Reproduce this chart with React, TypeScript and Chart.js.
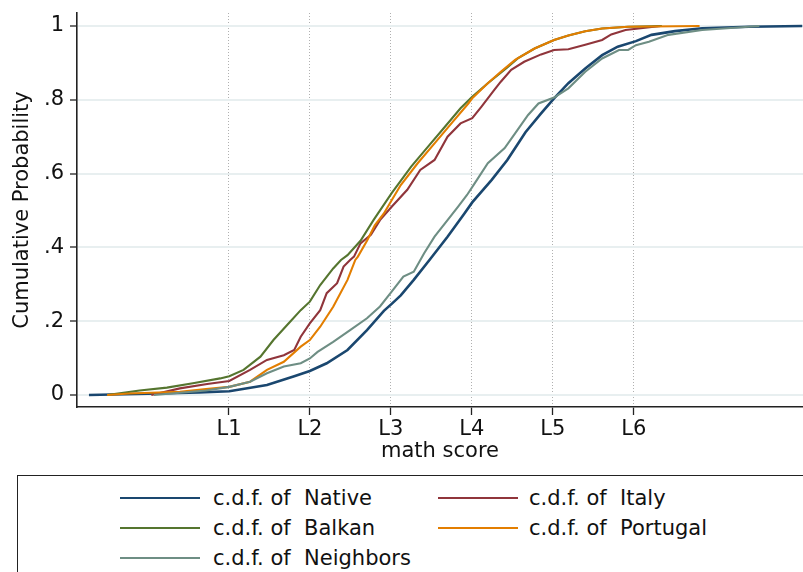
import React, { useEffect, useRef } from "react";
import { Chart, registerables } from "chart.js";

Chart.register(...registerables);

// ---- Data ----
const LEVEL_CUTS = [357.77, 420.07, 482.38, 544.68, 606.99, 669.3];
const LEVEL_LABELS = ["L1", "L2", "L3", "L4", "L5", "L6"];
const Y_TICKS = [0, 0.2, 0.4, 0.6, 0.8, 1];
const Y_LABELS = ["0", ".2", ".4", ".6", ".8", "1"];

const SERIES_NAMES = ["Native", "Italy", "Balkan", "Portugal", "Neighbors"];
const SERIES_COLORS = ["#1a476f", "#90353b", "#55752f", "#e37e00", "#6e8e84"];

const nativeScore = [250, 304, 335, 358, 387, 408, 420, 433, 449, 464, 477, 483, 490, 500, 513, 526, 539, 545, 560, 572, 586, 598, 608, 619, 632, 645, 657, 671, 683, 701, 722, 758, 799];
const nativeProb = [0, 0.004, 0.007, 0.01, 0.027, 0.051, 0.065, 0.086, 0.122, 0.176, 0.228, 0.247, 0.27, 0.312, 0.37, 0.429, 0.492, 0.522, 0.583, 0.637, 0.712, 0.763, 0.804, 0.845, 0.885, 0.921, 0.944, 0.959, 0.976, 0.986, 0.994, 0.998, 1];

const italyScore = [298, 320, 341, 358, 374, 387, 400, 408, 413, 420, 428, 433, 441, 446, 451, 454, 459, 467, 474, 483, 495, 505, 516, 526, 536, 545, 552, 562, 567, 575, 585, 598, 608, 619, 632, 645, 652, 663, 673, 690];
const italyProb = [0, 0.018, 0.03, 0.038, 0.068, 0.095, 0.108, 0.122, 0.158, 0.194, 0.23, 0.276, 0.303, 0.348, 0.366, 0.375, 0.411, 0.434, 0.474, 0.51, 0.556, 0.61, 0.637, 0.7, 0.736, 0.75, 0.781, 0.827, 0.849, 0.881, 0.903, 0.923, 0.935, 0.937, 0.949, 0.962, 0.977, 0.989, 0.993, 1];

const balkanScore = [264, 289, 310, 330, 351, 358, 369, 382, 392, 405, 413, 420, 428, 438, 444, 449, 459, 469, 483, 498, 511, 524, 536, 545, 557, 572, 580, 593, 608, 619, 632, 645, 665, 691];
const balkanProb = [0, 0.012, 0.02, 0.032, 0.045, 0.051, 0.068, 0.104, 0.149, 0.199, 0.23, 0.253, 0.298, 0.343, 0.366, 0.379, 0.418, 0.474, 0.547, 0.619, 0.673, 0.727, 0.777, 0.808, 0.845, 0.888, 0.912, 0.939, 0.962, 0.974, 0.986, 0.993, 0.998, 1];

const portugalScore = [264, 281, 320, 340, 358, 374, 387, 400, 413, 420, 428, 438, 449, 455, 457, 464, 470, 477, 483, 490, 503, 516, 529, 542, 545, 557, 567, 578, 593, 608, 619, 632, 645, 665, 720];
const portugalProb = [0, 0.004, 0.009, 0.016, 0.022, 0.036, 0.068, 0.09, 0.131, 0.149, 0.185, 0.239, 0.312, 0.366, 0.375, 0.418, 0.46, 0.492, 0.528, 0.569, 0.628, 0.682, 0.736, 0.79, 0.804, 0.845, 0.876, 0.908, 0.939, 0.962, 0.974, 0.986, 0.993, 0.998, 1];

const neighborsScore = [300, 320, 340, 358, 374, 387, 400, 413, 420, 426, 438, 451, 464, 474, 483, 492, 500, 508, 516, 526, 534, 541, 547, 557, 570, 578, 588, 596, 608, 619, 632, 645, 658, 665, 671, 681, 696, 722, 766];
const neighborsProb = [0, 0.006, 0.012, 0.022, 0.036, 0.059, 0.077, 0.086, 0.099, 0.117, 0.144, 0.176, 0.208, 0.24, 0.28, 0.321, 0.334, 0.384, 0.429, 0.474, 0.51, 0.542, 0.574, 0.628, 0.669, 0.709, 0.759, 0.79, 0.806, 0.831, 0.876, 0.912, 0.935, 0.935, 0.948, 0.957, 0.976, 0.989, 1];

const SERIES_SCORES = [nativeScore, italyScore, balkanScore, portugalScore, neighborsScore];
const SERIES_PROBS = [nativeProb, italyProb, balkanProb, portugalProb, neighborsProb];

const FONT = "'DejaVu Sans', 'Liberation Sans', sans-serif";
const FS = 21;

function ChartCanvas() {
  const ref = useRef<HTMLCanvasElement | null>(null);
  useEffect(() => {
    if (!ref.current) return;
    const datasets = SERIES_NAMES.map((name, i) => ({
      label: "c.d.f. of  " + name,
      data: SERIES_SCORES[i].map((x, j) => ({ x, y: SERIES_PROBS[i][j] })),
      borderColor: SERIES_COLORS[i],
      backgroundColor: SERIES_COLORS[i],
      borderWidth: i === 0 ? 2.6 : 2.1,
      pointRadius: 0,
      tension: 0,
      fill: false,
      order: SERIES_NAMES.length - i,
    }));
    const chart = new Chart(ref.current, {
      type: "line",
      data: { datasets },
      options: {
        animation: false,
        responsive: false,
        layout: { padding: { top: 13, right: 0, left: 0, bottom: 0 } },
        plugins: { legend: { display: false }, tooltip: { enabled: false } },
        scales: {
          x: {
            type: "linear",
            min: 240.8,
            max: 799.6,
            afterBuildTicks: (scale: any) => {
              scale.ticks = LEVEL_CUTS.map((v) => ({ value: v }));
            },
            afterFit: (scale: any) => {
              scale.height = 59;
              scale.paddingLeft = 0;
              scale.paddingRight = 0;
            },
            ticks: {
              autoSkip: false,
              maxRotation: 0,
              padding: 2,
              color: "#111",
              font: { family: FONT, size: FS },
              callback: (value: any) => {
                const idx = LEVEL_CUTS.indexOf(Number(value));
                return idx >= 0 ? LEVEL_LABELS[idx] : "";
              },
            },
            grid: {
              color: "#b0b0b0",
              lineWidth: 1,
              tickColor: "#222",
              tickLength: 8,
              tickWidth: 1.3,
              drawTicks: true,
            },
            border: { display: true, color: "#222", width: 1.6, dash: [1, 2] },
            title: {
              display: true,
              text: "math score",
              color: "#111",
              font: { family: FONT, size: FS },
              padding: { top: 0, bottom: 2 },
            },
          },
          y: {
            type: "linear",
            min: -0.0325,
            max: 1.0352,
            afterBuildTicks: (scale: any) => {
              scale.ticks = Y_TICKS.map((v) => ({ value: v }));
            },
            afterFit: (scale: any) => {
              scale.width = 77;
              scale.paddingTop = 0;
              scale.paddingBottom = 0;
            },
            ticks: {
              autoSkip: false,
              padding: 6,
              color: "#111",
              font: { family: FONT, size: FS },
              callback: (value: any) => {
                const idx = Y_TICKS.indexOf(Number(value));
                return idx >= 0 ? Y_LABELS[idx] : "";
              },
            },
            grid: {
              color: "#e8eff0",
              lineWidth: 2,
              tickColor: "#222",
              tickLength: 7,
              tickWidth: 1.3,
            },
            border: { display: true, color: "#222", width: 1.6 },
            title: {
              display: true,
              text: "Cumulative Probability",
              color: "#111",
              font: { family: FONT, size: FS },
              padding: { top: 10, bottom: 0 },
            },
          },
        },
      },
    });
    return () => chart.destroy();
  }, []);
  return (
    <canvas
      ref={ref}
      width={803}
      height={466}
      style={{ position: "absolute", left: 0, top: 0, width: 803, height: 466 }}
    />
  );
}

function Legend() {
  const colLineX = [119, 437];
  const colTextX = [212, 528];
  const rowY = [497, 527, 557];
  return (
    <div
      style={{
        position: "absolute",
        left: 17,
        top: 475,
        width: 800,
        height: 130,
        border: "1.5px solid #222",
        boxSizing: "border-box",
      }}
    >
      {SERIES_NAMES.map((name, i) => {
        const col = i % 2;
        const row = Math.floor(i / 2);
        const cy = rowY[row] - 475;
        return (
          <React.Fragment key={name}>
            <div
              style={{
                position: "absolute",
                left: colLineX[col] - 17,
                top: cy - 1,
                width: 80,
                height: 2,
                background: SERIES_COLORS[i],
              }}
            />
            <div
              style={{
                position: "absolute",
                left: colTextX[col] - 17,
                top: cy - 12,
                height: 24,
                lineHeight: "24px",
                fontFamily: FONT,
                fontSize: FS,
                color: "#111",
                whiteSpace: "pre",
              }}
            >
              {"c.d.f. of  " + name}
            </div>
          </React.Fragment>
        );
      })}
    </div>
  );
}

export default function App() {
  return (
    <div
      style={{
        position: "absolute",
        left: 0,
        top: 0,
        width: 803,
        height: 572,
        overflow: "hidden",
        background: "#fff",
      }}
    >
      <ChartCanvas />
      <Legend />
    </div>
  );
}
